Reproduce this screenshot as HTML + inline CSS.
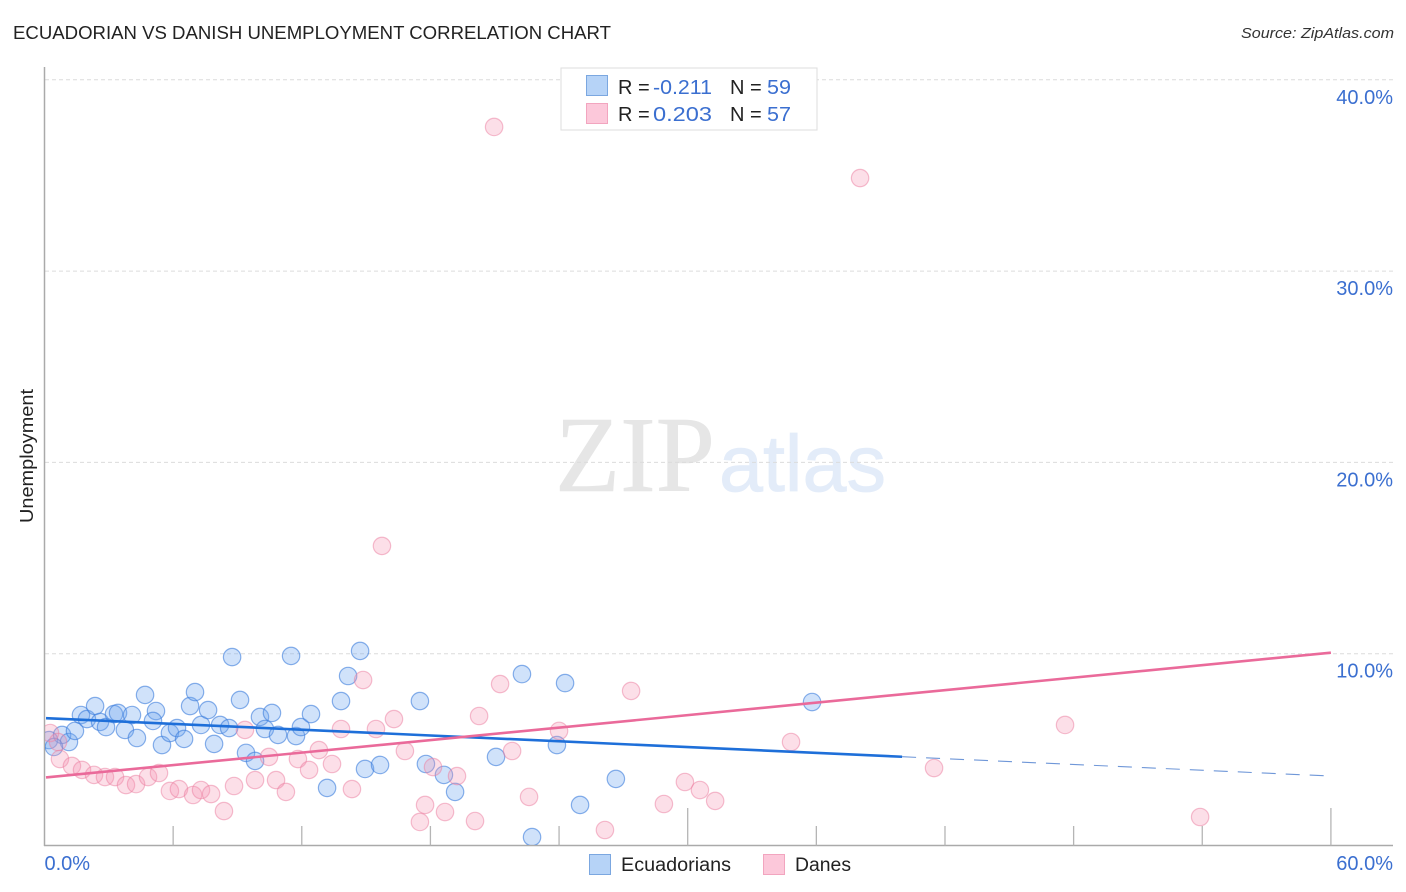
<!DOCTYPE html>
<html>
<head>
<meta charset="utf-8">
<title>Ecuadorian vs Danish Unemployment Correlation Chart</title>
<style>
html,body{margin:0;padding:0;background:#fff;}
svg{display:block;font-family:"Liberation Sans",sans-serif;}
</style>
</head>
<body>
<svg id="chart" xmlns="http://www.w3.org/2000/svg" width="1406" height="892" viewBox="0 0 1406 892">
<defs><clipPath id="plot-clip"><rect x="45" y="60" width="1350" height="785"/></clipPath></defs>
<text x="13" y="39" font-size="18.5" fill="#222" textLength="598" lengthAdjust="spacingAndGlyphs">ECUADORIAN VS DANISH UNEMPLOYMENT CORRELATION CHART</text>
<text x="1241" y="38" font-size="15" font-style="italic" fill="#333" textLength="153" lengthAdjust="spacingAndGlyphs">Source: ZipAtlas.com</text>
<g>
<text x="555" y="491" font-family="'Liberation Serif',serif" font-size="108" fill="#e6e6e6" stroke="#e6e6e6" stroke-width="0.6" textLength="160" lengthAdjust="spacingAndGlyphs">ZIP</text>
<text x="719" y="491" font-size="80" fill="#e3ecf9" stroke="#e3ecf9" stroke-width="0.8" textLength="167" lengthAdjust="spacingAndGlyphs">atlas</text>
</g>
<g id="grid"></g>
<g id="axes"></g>
<g id="marks" clip-path="url(#plot-clip)"></g>
<g id="trends"></g>
<text transform="translate(33,456) rotate(-90)" text-anchor="middle" font-size="18" fill="#222" textLength="134" lengthAdjust="spacingAndGlyphs">Unemployment</text>
<g>
<rect x="561" y="68" width="256" height="62" fill="#fff" stroke="#ddd" stroke-width="1"/>
<rect x="586.5" y="75.5" width="21" height="20" fill="#b6d3f7" stroke="#7ba7e0"/>
<rect x="586.5" y="103.5" width="21" height="20" fill="#fcc8da" stroke="#f2a5bf"/>
<text y="94" font-size="20" fill="#222"><tspan x="618">R =</tspan><tspan x="653" fill="#3b6fd0" textLength="59" lengthAdjust="spacingAndGlyphs">-0.211</tspan></text>
<text y="94" font-size="20" fill="#222"><tspan x="730">N =</tspan><tspan x="767" fill="#3b6fd0" textLength="24" lengthAdjust="spacingAndGlyphs">59</tspan></text>
<text y="121" font-size="20" fill="#222"><tspan x="618">R =</tspan><tspan x="653" fill="#3b6fd0" textLength="59" lengthAdjust="spacingAndGlyphs">0.203</tspan></text>
<text y="121" font-size="20" fill="#222"><tspan x="730">N =</tspan><tspan x="767" fill="#3b6fd0" textLength="24" lengthAdjust="spacingAndGlyphs">57</tspan></text>
</g>
<g>
<rect x="589.5" y="854.5" width="21" height="20" fill="#b6d3f7" stroke="#7ba7e0"/>
<text x="621" y="871" font-size="19" fill="#222" textLength="110" lengthAdjust="spacingAndGlyphs">Ecuadorians</text>
<rect x="763.5" y="854.5" width="21" height="20" fill="#fcc8da" stroke="#f2a5bf"/>
<text x="795" y="871" font-size="19" fill="#222" textLength="56" lengthAdjust="spacingAndGlyphs">Danes</text>
</g>
</svg>
<script>
var ecuadorianX = [0.21,0.82,1.14,0.44,1.42,1.70,1.98,2.36,2.59,2.87,3.24,3.43,4.08,3.75,4.31,4.69,5.20,5.06,5.48,5.85,6.18,6.51,6.79,7.02,7.30,7.63,7.91,8.19,8.61,8.75,9.12,9.40,9.82,10.05,10.28,10.61,10.89,11.50,11.73,11.96,12.43,13.18,13.83,14.16,14.72,17.51,14.95,15.65,17.79,18.63,19.15,21.06,22.27,24.28,23.90,26.65,24.98,22.74,35.80];
var ecuadorianY = [5.51,5.78,5.41,5.15,5.99,6.82,6.61,7.29,6.46,6.19,6.87,6.93,6.82,6.04,5.62,7.87,7.03,6.51,5.25,5.88,6.14,5.57,7.29,8.02,6.30,7.08,5.31,6.30,6.14,9.85,7.61,4.84,4.42,6.72,6.09,6.93,5.78,9.91,5.72,6.19,6.87,3.01,7.55,8.86,10.17,7.55,4.00,4.21,4.26,3.69,2.80,4.63,8.96,8.49,5.25,3.48,2.12,0.44,7.50];
var daneX = [0.26,0.63,0.72,1.28,1.75,2.31,2.82,3.29,3.80,4.27,4.83,5.34,5.85,6.27,6.93,7.30,7.77,8.37,8.84,9.82,10.80,11.26,9.35,10.47,11.82,12.34,12.80,13.41,13.83,14.34,14.86,15.46,16.30,16.81,18.12,19.24,17.75,18.68,17.51,20.08,20.27,21.25,21.81,22.60,24.00,26.14,27.36,28.89,29.87,30.57,31.28,34.82,41.49,47.60,53.90,15.74,20.97,38.04];
var daneY = [5.88,5.41,4.52,4.16,3.95,3.69,3.58,3.58,3.16,3.21,3.58,3.79,2.85,2.95,2.64,2.90,2.69,1.80,3.11,3.42,3.42,2.80,6.04,4.63,4.52,3.95,4.99,4.26,6.09,2.95,8.65,6.09,6.61,4.94,4.10,3.63,2.12,1.75,1.23,1.28,6.77,8.44,4.94,2.54,5.99,0.81,8.08,2.17,3.32,2.90,2.33,5.41,4.05,6.30,1.49,15.66,37.56,34.89];
var yTickValues = [10,20,30,40];
var yTickLabels = ["10.0%","20.0%","30.0%","40.0%"];
var xTickValues = [6,12,18,24,30,36,42,48,54,60];
var xEndLabels = ["0.0%","60.0%"];
var ecuadorianTrend = [6.66,3.63];
var daneTrend = [3.55,10.08];
var trendRangeX = [0,60];
var solidEndX = 40;

var NS = "http://www.w3.org/2000/svg";
function xPos(v){ return 44.5 + v * 21.44; }
function yPos(v){ return 845.5 - v * 19.13; }
function make(parent, tag, attrs){
  var el = document.createElementNS(NS, tag);
  for (var k in attrs) el.setAttribute(k, attrs[k]);
  parent.appendChild(el);
  return el;
}
var grid = document.getElementById("grid");
var axes = document.getElementById("axes");
var marks = document.getElementById("marks");
var trends = document.getElementById("trends");

yTickValues.forEach(function(v, i){
  var g = make(grid, "line", {x1:45, x2:1393, y1:yPos(v)-0.5, y2:yPos(v)-0.5, stroke:"#dcdcdc", "stroke-width":1, "stroke-dasharray":"4 3"});
  
  
  var t = make(axes, "text", {x:1393, y:yPos(v)+23.5, "text-anchor":"end", "font-size":20, fill:"#3b6fd0"});
  t.textContent = yTickLabels[i];
  
  
});
var yAxis = make(axes, "line", {x1:44.5, x2:44.5, y1:67, y2:846, stroke:"#aaa", "stroke-width":1.5});


var xAxis = make(axes, "line", {x1:44, x2:1393, y1:845.5, y2:845.5, stroke:"#aaa", "stroke-width":1.5});


xTickValues.forEach(function(v){
  var top = (v === 30 || v === 60) ? 808 : 826;
  var tick = make(axes, "line", {x1:xPos(v), x2:xPos(v), y1:top, y2:845.5, stroke:"#b5b5b5", "stroke-width":1.3});
  
  
});
var x0 = make(axes, "text", {x:xPos(0), y:870, "font-size":20, fill:"#3b6fd0"});
x0.textContent = xEndLabels[0];


var x1 = make(axes, "text", {x:1393, y:870, "text-anchor":"end", "font-size":20, fill:"#3b6fd0"});
x1.textContent = xEndLabels[1];



ecuadorianX.forEach(function(v, i){
  var c = make(marks, "circle", {cx:xPos(v), cy:yPos(ecuadorianY[i]), r:8.7, fill:"rgba(110,165,240,0.32)", stroke:"rgba(60,125,220,0.6)", "stroke-width":1.2});
  
  
});
daneX.forEach(function(v, i){
  var c = make(marks, "circle", {cx:xPos(v), cy:yPos(daneY[i]), r:8.7, fill:"rgba(245,150,180,0.3)", stroke:"rgba(235,125,160,0.5)", "stroke-width":1.2});
  
  
});
function trendAt(tr, x){
  return tr[0] + (tr[1]-tr[0]) * (x-trendRangeX[0]) / (trendRangeX[1]-trendRangeX[0]);
}
var startX = 0.07;
var blueSolid = make(trends, "line", {x1:xPos(startX), y1:yPos(trendAt(ecuadorianTrend,startX)), x2:xPos(solidEndX), y2:yPos(trendAt(ecuadorianTrend,solidEndX)), stroke:"#1e6fd9", "stroke-width":2.6});


var blueDash = make(trends, "line", {x1:xPos(solidEndX), y1:yPos(trendAt(ecuadorianTrend,solidEndX)), x2:xPos(60), y2:yPos(trendAt(ecuadorianTrend,60)), stroke:"#6f97d8", "stroke-width":1.1, "stroke-dasharray":"14 10"});


var pinkSolid = make(trends, "line", {x1:xPos(startX), y1:yPos(trendAt(daneTrend,startX)), x2:xPos(60), y2:yPos(trendAt(daneTrend,60)), stroke:"#ea6a9a", "stroke-width":2.6});


</script>
</body>
</html>
